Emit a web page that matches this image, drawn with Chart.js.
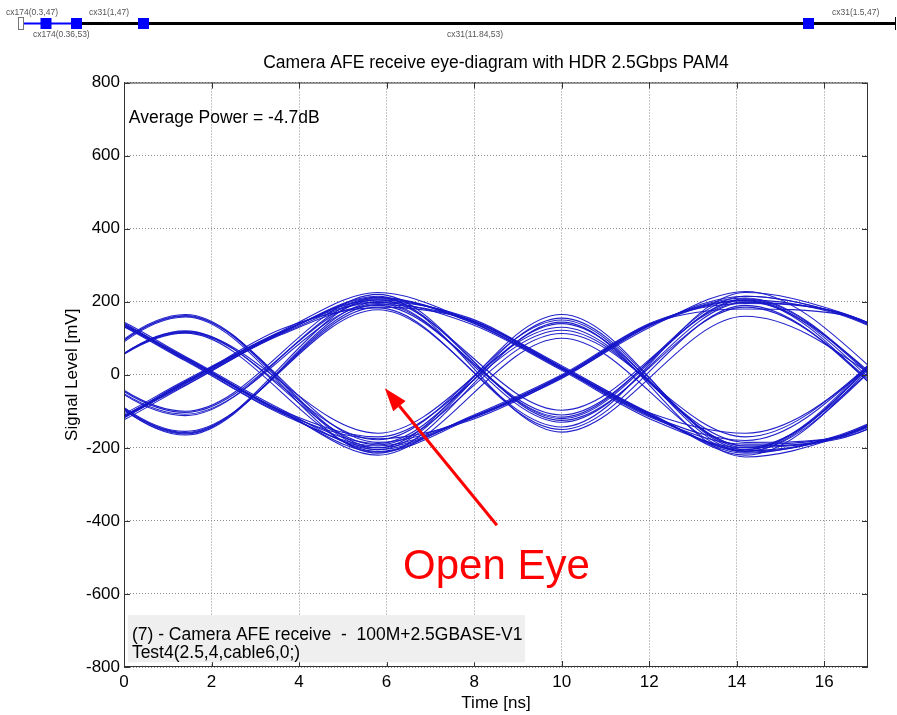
<!DOCTYPE html>
<html>
<head>
<meta charset="utf-8">
<script src="https://cdn.jsdelivr.net/npm/chart.js@4.4.0/dist/chart.umd.min.js"></script>
<style>
  html, body { margin: 0; padding: 0; background: #fff; }
  canvas { display: block; }
</style>
</head>
<body>
<canvas id="eyeChart" width="897" height="715"></canvas>
<script>
// sample instants [ns]: symbol centres and the points half-way between them
var times = [-2.8, -0.7, 1.4, 3.6, 5.8, 7.9, 10.0, 12.1, 14.2, 16.35, 18.5];

// captured traces [mV], one row per sweep, null = nothing read at that instant
// traces that dip low at the first symbol
var dipTraces = [
  [205, null, -103, null, 205, null,  -97, null,  200, null, -130],
  [195, null, -108, null, 195, null, -116, null,  215,  168,   55],
  [210, null, -100, null, 220, null, -125, null,  185, null, -160],
  [200, null, -158, null, 185,  150,   20, -115, -210, null,  165],
  [190, null, -162, null, 210,  145,   15, -120, -190, -168,  -55],
  [215, null, -165, null, 200,  155,   22, -110, -220, null,  190],
  [200, null, -155, null, 178, null, -143, null,  225,  172,   60],
  [198, null, -112, null, 212, null, -120, null,  208, null, -150],
  [205, null, -160, null, 192,  150,   18, -118, -205, null,  185]
];
// traces rising straight through the first symbol
var riseTraces = [
  [-200, -150, -20, 115, 215, null, -157, null,  160, null, -110],
  [-210, -155, -25, 110, 190, null, -110, null,  205,  165,   50],
  [-195, -145, -15, 120, 225,  148,   18, -108, -160, null,  150],
  [-205, -160, -30, 112, 198,  140,   12, -125, -200, -172,  -60],
  [-200, -152, -18, 118, 205,  152,   25, -112, -215, -165,  -50],
  [-215, -158, -22, 125, 183, null, -150, null,  190, null, -175],
  [-190, -148, -28, 114, 212,  146,   16, -116, -180, null,  175],
  [-205, -153, -24, 116, 208,  150,   20, -114, -208, -170,  -56],
  [-198, -150, -20, 118, 200, null, -130, null,  198,  170,   58]
];
// traces with a hump at the first symbol
var humpTraces = [
  [-200, null, 165, null, -200, null, 165, null, -205, null,  200],
  [-210, null, 158, null, -215, null, 144, null, -225, -170,  -52],
  [-195, null, 160, null, -185, -120,  -5,  140,  210, null, -145],
  [-205, null, 118, null, -160, null, 130, null, -195, -175,  -58],
  [-200, null, 114, null, -210, -115,   0,  145,  195,  170,   58],
  [-215, null, 120, null, -192, null, 113, null, -170, null,  170],
  [-205, null, 162, null, -205, -118,  -4,  142,  205, null, -165],
  [-198, null, 116, null, -178, null, 150, null, -210, null,  195]
];
// traces falling straight through the first symbol
var fallTraces = [
  [200, 165, 45, -100, -220, null, 100, null, -212, -168,  -48],
  [205, 170, 40, -105, -175, -125,  -8,  135,  228, null, -125],
  [195, 175, 50,  -95, -205, null, 155, null, -200, null,  160],
  [210, 168, 38, -108, -195, -118,  -3,  142,  180,  166,   52],
  [200, 172, 48,  -98, -170, null, 122, null, -185, -172,  -62],
  [205, 178, 42, -102, -212, -122, -10,  138,  203, null, -185],
  [202, 168, 44, -104, -200, -120,  -6,  140,  215,  168,   55],
  [198, 170, 46, -100, -188, null, 140, null, -195, -170,  -50]
];

var xTickValues = [0, 2, 4, 6, 8, 10, 12, 14, 16];
var yTickValues = [-800, -600, -400, -200, 0, 200, 400, 600, 800];

var chartTitle = 'Camera AFE receive eye-diagram with HDR 2.5Gbps PAM4';
var powerNote = 'Average Power = -4.7dB';
var testNote = ['(7) - Camera AFE receive  -  100M+2.5GBASE-V1', 'Test4(2.5,4,cable6,0;)'];
var eyeNote = 'Open Eye';
var sliderLabels = ['cx174(0.3,47)', 'cx174(0.36,53)', 'cx31(1,47)', 'cx31(11.84,53)', 'cx31(1.5,47)'];

var fontFamily = "'Liberation Sans', Arial, Helvetica, sans-serif";
var traceColor = 'rgba(22, 22, 200, 0.95)';

Chart.defaults.font.family = fontFamily;
Chart.defaults.color = '#000';

var allTraces = [].concat(dipTraces, riseTraces, humpTraces, fallTraces);
var datasets = allTraces.map(function (row) {
  return {
    data: times.map(function (t, i) { return { x: t, y: row[i] }; }),
    borderColor: traceColor,
    borderWidth: 1.1,
    pointRadius: 0,
    fill: false,
    spanGaps: true,
    clip: 0,
    cubicInterpolationMode: 'monotone'
  };
});

// everything that is not a trace: box, inner ticks, notes, arrow, top slider
var decorations = {
  id: 'decorations',
  afterDatasetsDraw: function (chart) {
    var ctx = chart.ctx, a = chart.chartArea;
    var xs = chart.scales.x, ys = chart.scales.y;
    ctx.save();

    // axes box and inward ticks
    ctx.strokeStyle = '#333';
    ctx.lineWidth = 1;
    ctx.strokeRect(a.left + 0.5, a.top + 0.5, a.right - a.left - 1, a.bottom - a.top - 1);
    ctx.beginPath();
    xTickValues.forEach(function (v) {
      var px = Math.round(xs.getPixelForValue(v)) + 0.5;
      ctx.moveTo(px, a.bottom); ctx.lineTo(px, a.bottom - 6);
      ctx.moveTo(px, a.top); ctx.lineTo(px, a.top + 6);
    });
    yTickValues.forEach(function (v) {
      var py = Math.round(ys.getPixelForValue(v)) + 0.5;
      ctx.moveTo(a.left, py); ctx.lineTo(a.left + 6, py);
      ctx.moveTo(a.right, py); ctx.lineTo(a.right - 6, py);
    });
    ctx.stroke();

    // average power note
    ctx.fillStyle = '#000';
    ctx.font = '17.5px ' + fontFamily;
    ctx.textBaseline = 'middle';
    ctx.textAlign = 'left';
    ctx.fillText(powerNote, xs.getPixelForValue(0.11), ys.getPixelForValue(701));

    // test description box
    var bx1 = xs.getPixelForValue(0.09), bx2 = xs.getPixelForValue(9.16);
    var by1 = ys.getPixelForValue(-658), by2 = ys.getPixelForValue(-787);
    ctx.fillStyle = '#efefef';
    ctx.fillRect(bx1, by1, bx2 - bx1, by2 - by1);
    ctx.fillStyle = '#000';
    ctx.fillText(testNote[0], xs.getPixelForValue(0.18), ys.getPixelForValue(-712));
    ctx.fillText(testNote[1], xs.getPixelForValue(0.18), ys.getPixelForValue(-762));

    // red arrow pointing into the eye
    var x1 = xs.getPixelForValue(8.52), y1 = ys.getPixelForValue(-412);
    var x2 = xs.getPixelForValue(5.96), y2 = ys.getPixelForValue(-37);
    var ang = Math.atan2(y2 - y1, x2 - x1);
    var headLen = 23, headW = 8;
    var hx = x2 - headLen * Math.cos(ang), hy = y2 - headLen * Math.sin(ang);
    ctx.strokeStyle = '#ff0000';
    ctx.fillStyle = '#ff0000';
    ctx.lineWidth = 3;
    ctx.beginPath(); ctx.moveTo(x1, y1); ctx.lineTo(hx, hy); ctx.stroke();
    ctx.beginPath();
    ctx.moveTo(x2, y2);
    ctx.lineTo(hx + headW * Math.sin(ang), hy - headW * Math.cos(ang));
    ctx.lineTo(hx - headW * Math.sin(ang), hy + headW * Math.cos(ang));
    ctx.closePath();
    ctx.fill();

    ctx.font = '42px ' + fontFamily;
    ctx.textBaseline = 'alphabetic';
    ctx.fillText(eyeNote, xs.getPixelForValue(6.375), ys.getPixelForValue(-559));
    ctx.restore();
  },
  afterDraw: function (chart) {
    var ctx = chart.ctx;
    ctx.save();
    // slider track
    ctx.strokeStyle = '#000';
    ctx.lineWidth = 3;
    ctx.beginPath(); ctx.moveTo(77, 23.5); ctx.lineTo(895, 23.5); ctx.stroke();
    ctx.lineWidth = 1;
    ctx.beginPath(); ctx.moveTo(895.5, 17); ctx.lineTo(895.5, 30); ctx.stroke();
    ctx.strokeStyle = '#0000ff';
    ctx.lineWidth = 2;
    ctx.beginPath(); ctx.moveTo(23, 23.5); ctx.lineTo(77, 23.5); ctx.stroke();
    // handles
    ctx.fillStyle = '#fff';
    ctx.strokeStyle = '#777';
    ctx.lineWidth = 1;
    ctx.fillRect(18.5, 17.5, 5, 12);
    ctx.strokeRect(18.5, 17.5, 5, 12);
    ctx.fillStyle = '#0000ff';
    [46, 76.5, 143.5, 808.5].forEach(function (cx) {
      ctx.fillRect(cx - 5.5, 18, 11, 11);
    });
    // handle labels
    ctx.fillStyle = '#555';
    ctx.font = '8.5px ' + fontFamily;
    ctx.textBaseline = 'middle';
    ctx.textAlign = 'left';
    ctx.fillText(sliderLabels[0], 6, 13);
    ctx.fillText(sliderLabels[1], 33, 35);
    ctx.fillText(sliderLabels[2], 89, 13);
    ctx.fillText(sliderLabels[3], 447, 35);
    ctx.fillText(sliderLabels[4], 832, 13);
    ctx.restore();
  }
};

var tickFont = { family: fontFamily, size: 17 };

new Chart(document.getElementById('eyeChart').getContext('2d'), {
  type: 'line',
  data: { datasets: datasets },
  plugins: [decorations],
  options: {
    responsive: false,
    animation: false,
    devicePixelRatio: 1,
    events: [],
    layout: { padding: { top: 40, right: 29, bottom: 0, left: 0 } },
    elements: { line: { capBezierPoints: false } },
    plugins: {
      legend: { display: false },
      tooltip: { enabled: false },
      title: {
        display: true,
        text: chartTitle,
        fullSize: false,
        color: '#000',
        font: { family: fontFamily, size: 17.5, weight: 'normal' },
        padding: { top: 13, bottom: 8.5 }
      }
    },
    scales: {
      x: {
        type: 'linear',
        bounds: 'data',
        // range set here (not via min/max) so the off-axis sweep points are still drawn and clipped
        afterBuildTicks: function (s) {
          s.ticks = xTickValues.map(function (v) { return { value: v }; });
          s.min = 0;
          s.max = 17;
        },
        afterFit: function (s) { s.height = 48; },
        grid: { color: '#8c8c8c', lineWidth: 1, drawTicks: false },
        border: { display: false, dash: [1, 2] },
        ticks: { font: tickFont, color: '#000', padding: 5, maxRotation: 0, autoSkip: false },
        title: { display: true, text: 'Time [ns]', color: '#000', font: tickFont, padding: { top: 0, bottom: 1 } }
      },
      y: {
        type: 'linear',
        min: -800,
        max: 800,
        afterBuildTicks: function (s) {
          s.ticks = yTickValues.map(function (v) { return { value: v }; });
        },
        afterFit: function (s) { s.width = 124; },
        grid: { color: '#8c8c8c', lineWidth: 1, drawTicks: false },
        border: { display: false, dash: [1, 2] },
        ticks: { font: tickFont, color: '#000', padding: 4, autoSkip: false },
        title: { display: true, text: 'Signal Level [mV]', color: '#000', font: tickFont, padding: { top: 62, bottom: 0 } }
      }
    }
  }
});
</script>
</body>
</html>
